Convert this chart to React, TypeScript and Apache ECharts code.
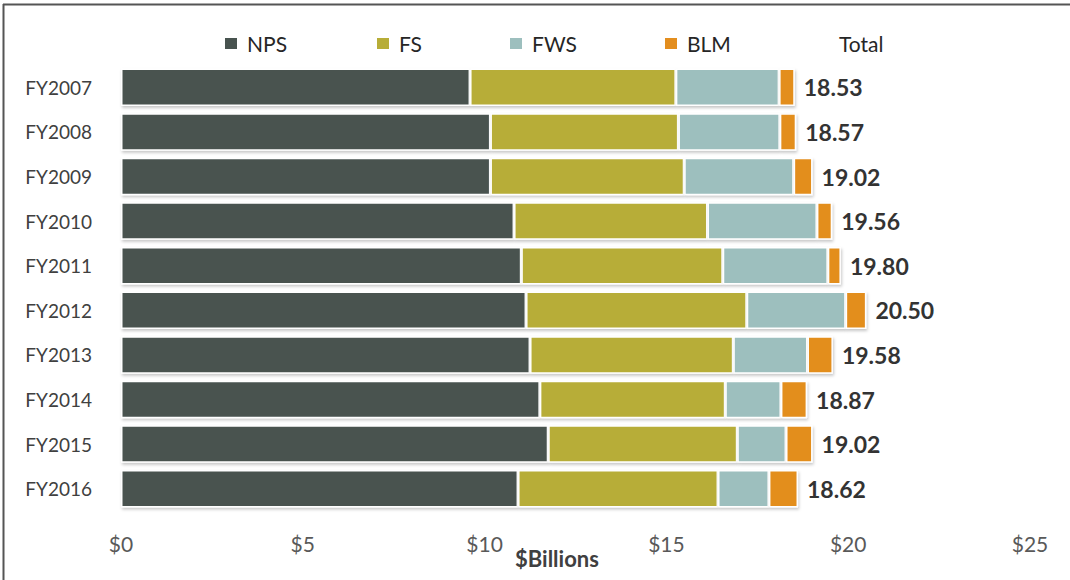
import React, { useEffect, useRef } from "react";
import * as echarts from "echarts";

const categories = ["FY2007", "FY2008", "FY2009", "FY2010", "FY2011", "FY2012", "FY2013", "FY2014", "FY2015", "FY2016"];
const npsValues = [9.6, 10.16, 10.16, 10.81, 11.01, 11.14, 11.25, 11.52, 11.75, 10.92];
const fsValues = [5.66, 5.17, 5.33, 5.32, 5.54, 6.07, 5.59, 5.1, 5.2, 5.5];
const fwsValues = [2.84, 2.79, 3.01, 3.01, 2.89, 2.72, 2.04, 1.53, 1.34, 1.4];
const blmValues = [0.43, 0.45, 0.52, 0.42, 0.36, 0.57, 0.7, 0.72, 0.73, 0.8];
const totalValues = [18.53, 18.57, 19.02, 19.56, 19.8, 20.5, 19.58, 18.87, 19.02, 18.62];
const xTicks = [0, 5, 10, 15, 20, 25];

const FONT = "Lato";
const colors: Record<string, string> = { NPS: "#48534f", FS: "#b7ad37", FWS: "#9dbfbe", BLM: "#e38e1f" };

export default function App() {
  const ref = useRef<HTMLDivElement>(null);
  useEffect(() => {
    document.body.style.margin = "0";
    const chart = echarts.init(ref.current!, null, { renderer: "svg", width: 1070, height: 580 });
    const barStyle = (c: string) => ({
      color: c,
      borderColor: "#ffffff",
      borderWidth: 1.5,
      shadowColor: "rgba(0,0,0,0.22)",
      shadowBlur: 3,
      shadowOffsetX: 1,
      shadowOffsetY: 2,
    });
    const stacked = [
      { name: "NPS", data: npsValues },
      { name: "FS", data: fsValues },
      { name: "FWS", data: fwsValues },
      { name: "BLM", data: blmValues },
    ].map((s) => ({
      type: "bar",
      name: s.name,
      stack: "parks",
      data: s.data,
      barCategoryGap: "16%",
      itemStyle: barStyle(colors[s.name]),
      z: 3,
    }));
    const legendPos: Record<string, number> = { NPS: 223, FS: 375, FWS: 508, BLM: 663, Total: 816 };
    const legends = Object.keys(legendPos).map((n) => ({
      data: [n === "Total" ? { name: n, icon: "none" } : { name: n, icon: "rect" }],
      left: legendPos[n],
      top: 33,
      padding: 0,
      itemWidth: 14,
      itemHeight: 13,
      itemGap: 0,
      selectedMode: false,
      textStyle: { fontFamily: FONT, fontSize: 21, lineHeight: 21, color: "#262626", padding: [0, 0, 0, 4] },
    }));
    chart.setOption({
      animation: false,
      backgroundColor: "#ffffff",
      legend: legends,
      grid: { left: 121, right: 40, top: 65, bottom: 69, containLabel: false },
      xAxis: {
        type: "value",
        min: xTicks[0],
        max: xTicks[xTicks.length - 1],
        interval: 5,
        splitLine: { show: false },
        axisLine: { show: false },
        axisTick: { show: false },
        axisLabel: {
          formatter: (v: number) => "$" + v,
          fontFamily: FONT,
          fontSize: 21,
          color: "#595959",
          margin: 22,
        },
      },
      yAxis: {
        type: "category",
        inverse: true,
        data: categories,
        axisLine: { show: false },
        axisTick: { show: false },
        axisLabel: { fontFamily: FONT, fontSize: 19, color: "#404040", margin: 29 },
      },
      series: [
        ...stacked,
        {
          type: "bar",
          name: "Total",
          data: totalValues,
          barGap: "-100%",
          barCategoryGap: "16%",
          itemStyle: { color: "rgba(0,0,0,0)" },
          z: 1,
          silent: true,
          label: {
            show: true,
            position: "right",
            distance: 9,
            formatter: (p: any) => p.value.toFixed(2),
            fontFamily: FONT,
            fontSize: 23,
            fontWeight: "bold",
            color: "#333333",
          },
        },
      ],
      graphic: [
        { type: "line", shape: { x1: 3, y1: 4.5, x2: 1070, y2: 4.5 }, style: { stroke: "#555555", lineWidth: 2 } },
        { type: "line", shape: { x1: 3.5, y1: 4, x2: 3.5, y2: 580 }, style: { stroke: "#555555", lineWidth: 2 } },
        {
          type: "text",
          left: 515,
          top: 547,
          style: { text: "$Billions", fontFamily: FONT, fontSize: 22, fontWeight: "bold", fill: "#404040" },
        },
      ],
    });
    return () => chart.dispose();
  }, []);
  return <div ref={ref} style={{ width: 1070, height: 580 }} />;
}
